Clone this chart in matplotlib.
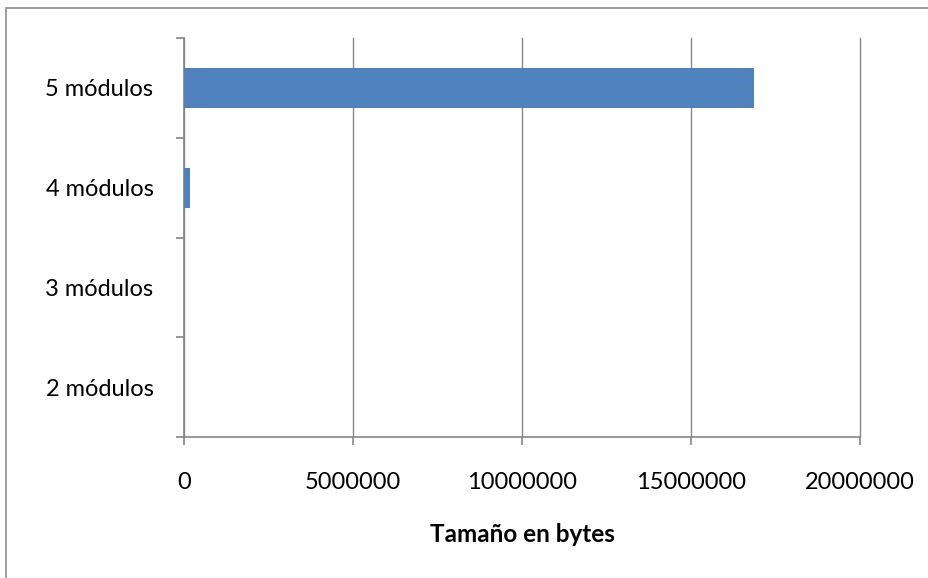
import matplotlib
matplotlib.use("Agg")
import matplotlib.pyplot as plt
from matplotlib.patches import Rectangle

categories = ["2 módulos", "3 módulos", "4 módulos", "5 módulos"]
sizes = [300, 3000, 175000, 16850000]
x_ticks = [0, 5000000, 10000000, 15000000, 20000000]

plt.rcParams['font.family'] = ['Lato', 'DejaVu Sans']

W, H = 929, 578
fig = plt.figure(figsize=(W / 100, H / 100), dpi=100)
ax = fig.add_axes([184 / W, 1 - 437 / H, (860 - 184) / W, (437 - 38) / H])

grid_color = "#868686"
ax.barh(range(len(categories)), sizes, height=0.4, color="#4f81bd",
        edgecolor="none", zorder=3)

ax.set_xlim(0, 20000000)
ax.set_ylim(-0.5, len(categories) - 0.5)
ax.set_xticks(x_ticks)
ax.set_xticklabels([str(v) for v in x_ticks], fontsize=17)
ax.set_yticks(range(len(categories)))
ax.set_yticklabels(categories, fontsize=17)
ax.set_yticks([i - 0.5 for i in range(len(categories) + 1)], minor=True)

ax.grid(axis="x", color=grid_color, linewidth=1.0, zorder=0)
for gl in ax.get_xgridlines():
    gl.set_clip_on(False)
ax.tick_params(axis="y", which="major", length=0, pad=22)
ax.tick_params(axis="y", which="minor", length=6, color=grid_color, width=1.2)
ax.tick_params(axis="x", length=6, color=grid_color, width=1.2, pad=19)

for side in ["top", "right"]:
    ax.spines[side].set_visible(False)
for side in ["left", "bottom"]:
    ax.spines[side].set_color(grid_color)
    ax.spines[side].set_linewidth(1.2)

ax.set_xlabel("Tamaño en bytes", fontsize=17.5, fontweight="bold", labelpad=22)

# outer chart border
fig.patches.append(Rectangle((6 / W, -0.05), 1.1, 1 - 8 / H + 0.05,
                             transform=fig.transFigure, fill=False,
                             edgecolor="#8c8c8c", linewidth=1.2))

fig.savefig("out.png", dpi=100, facecolor="white")
